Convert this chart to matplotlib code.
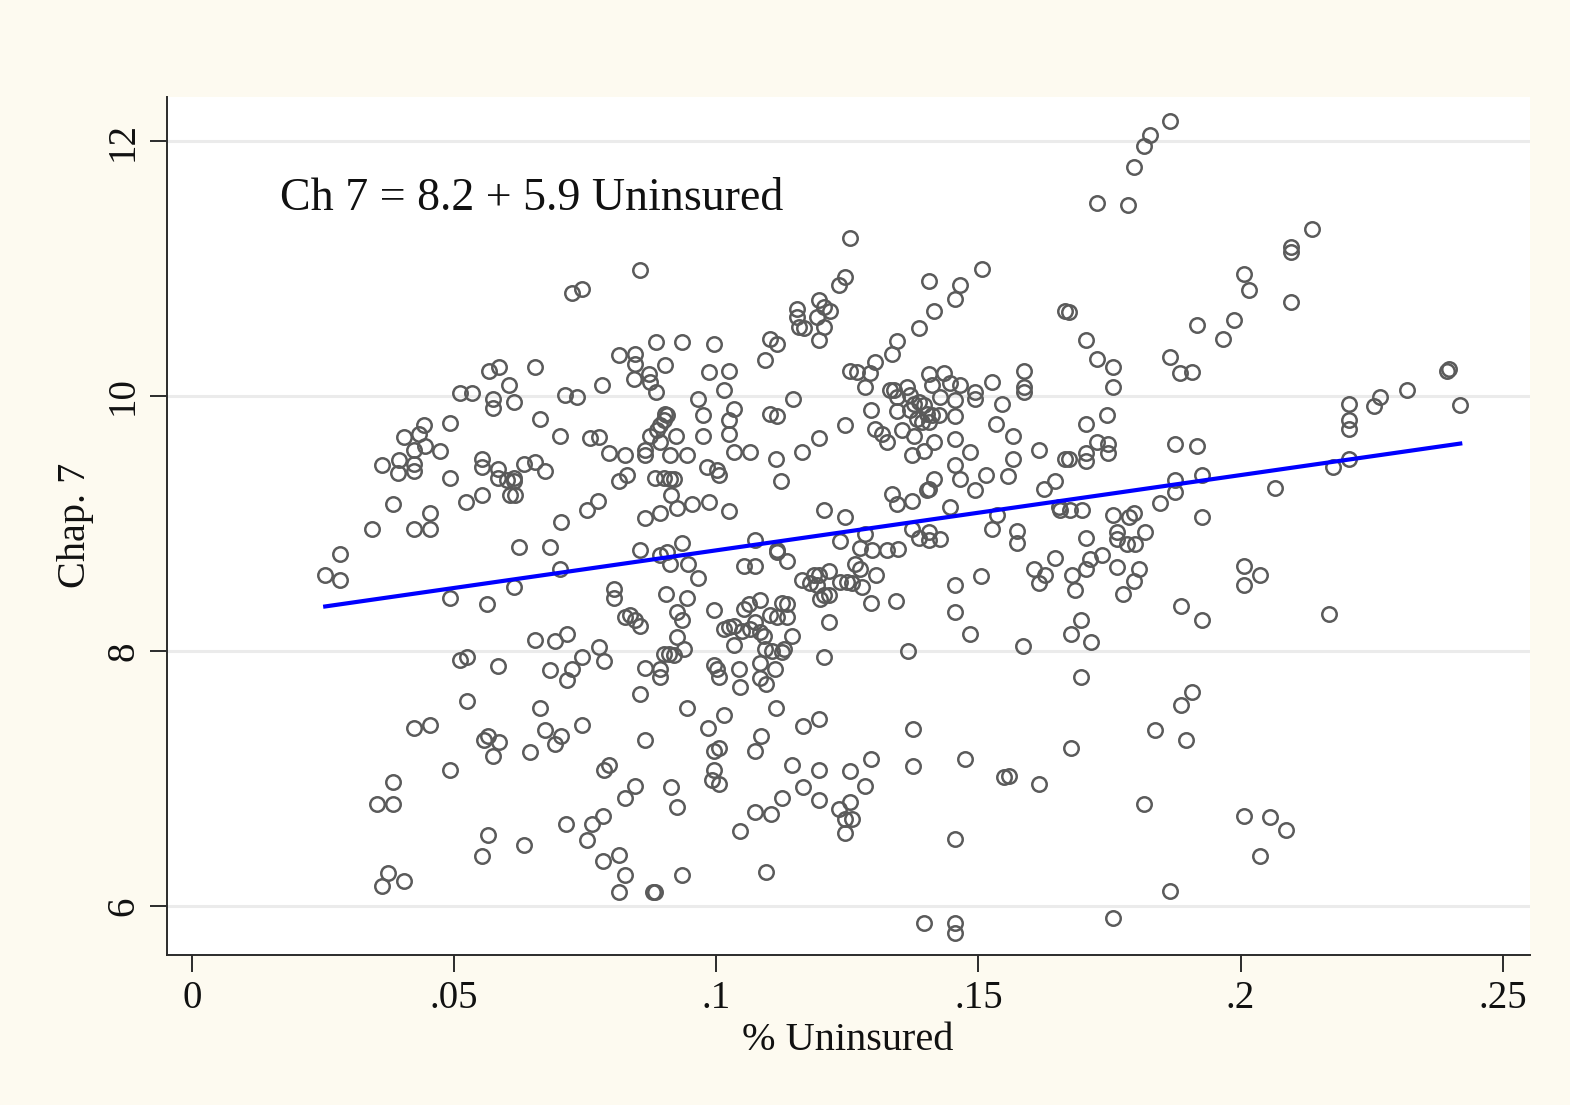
import matplotlib
matplotlib.use("Agg")
import matplotlib.pyplot as plt
import numpy as np

# ---- data: % uninsured (x) and Chap. 7 filings (y) ----
x_uninsured = [
    # left cluster
    0.0511,0.0534,0.0574,0.0574,0.0614,0.0605,0.0712,0.0734,0.0782,0.0492,
    0.0443,0.0433,0.0404,0.0424,0.0444,0.0473,0.0362,0.0395,0.0424,0.0424,
    0.0393,0.0492,0.0553,0.0553,0.0584,0.0584,0.0614,0.0614,0.0607,0.0616,
    0.0601,0.0633,0.0654,0.0673,0.0664,0.0702,0.0759,0.0776,0.0796,0.0826,
    0.0815,0.0830,0.0775,0.0754,0.0704,0.0683,0.0624,0.0702,0.0614,0.0553,
    0.0523,0.0454,0.0424,0.0454,0.0383,0.0343,0.0282,0.0254,0.0282,0.0492,
    0.0563,0.0805,0.0805,0.0826,0.0654,0.0692,0.0715,0.0776,0.0744,0.0786,
    0.0511,0.0525,0.0584,0.0683,0.0725,
    0.0725,0.0744,0.0567,0.0586,0.0654,0.0815,
    0.0715,0.0525,0.0664,0.0424,0.0454,0.0557,0.0565,0.0586,0.0574,0.0645,
    0.0673,0.0704,0.0692,0.0744,0.0492,0.0383,0.0353,0.0383,0.0786,0.0796,
    0.0826,0.0784,0.0763,0.0713,0.0754,0.0565,0.0633,0.0553,0.0784,0.0815,
    0.0826,0.0815,0.0374,0.0404,0.0362,
    # upper middle
    0.0855,0.1255,0.1246,0.1234,0.1406,0.1465,0.1456,0.1507,0.1415,0.1387,
    0.1345,0.1335,0.1303,0.1293,0.1255,0.1269,0.1665,0.1196,0.1154,0.1154,
    0.1158,0.1168,0.1206,0.1217,0.1192,0.1206,0.1196,0.1103,0.1116,0.1093,
    0.0885,0.0935,0.0996,0.0902,0.0986,0.1024,0.0845,0.0845,0.0843,0.0872,
    0.0874,0.1015,0.1406,0.1435,0.1446,0.1465,0.1412,0.1526,0.1587,0.1587,
    0.1284,0.1364,0.1339,0.1494,
    # upper right
    0.1866,0.1828,0.1816,0.1797,0.1726,0.1786,0.2137,0.2097,0.2097,0.2007,
    0.2016,0.2097,0.1673,0.1705,0.1726,0.1757,0.1757,0.1866,0.1885,0.1908,
    0.1917,0.1967,0.1988,0.2398,0.2394,0.2318,
    # middle right
    0.2207,0.2266,0.2255,0.2419,0.2207,0.2207,0.2207,0.2177,0.2066,0.1705,
    0.1746,0.1726,0.1747,0.1747,0.1705,0.1705,0.1673,0.1875,0.1917,0.1875,
    0.1875,0.1927,0.1847,0.1927,0.1698,0.1675,0.1757,0.1788,0.1797,0.1765,
    0.1765,0.1818,0.1784,0.1799,0.1705,0.1736,0.1713,0.1705,0.1765,0.1807,
    0.1797,0.1679,0.1684,0.1776,0.2007,0.2037,0.2007,0.2169,0.1887,0.1927,
    0.1696,0.1677,0.1715,
    # lower right
    0.1696,0.1908,0.1887,0.1837,0.1896,0.1677,0.1816,0.2007,0.2056,0.2087,
    0.2037,0.1866,0.1757,
    # dense centre
    0.0885,0.0965,0.1147,0.1332,0.1587,0.1345,0.1370,0.1427,0.1456,0.1494,
    0.1545,0.1377,0.1387,0.1396,0.1370,0.1345,0.1295,0.1402,0.1412,0.1425,
    0.1456,0.1383,0.1393,0.1406,0.1534,0.1566,0.1354,0.1377,0.1303,0.1316,
    0.1326,0.1246,0.1456,0.1415,0.1374,0.1396,0.1484,0.1616,0.1665,0.1566,
    0.1456,0.1465,0.1415,0.1406,0.1402,0.1515,0.1557,0.1494,0.1625,0.1646,
    0.1335,0.1345,0.1374,0.1446,0.1654,0.1656,0.1536,0.1526,0.1574,0.1574,
    0.1374,0.1387,0.1406,0.1406,0.1427,0.1284,0.1246,0.1206,0.1236,0.1274,
    0.1297,0.1326,0.1347,0.1265,0.1274,0.1305,0.1646,0.1606,0.1627,0.1616,
    0.1505,0.1456,0.1456,0.1343,0.1295,0.1484,0.1585,0.1366,0.1206,0.1164,
    0.1187,0.1196,0.1215,0.1179,0.1192,0.1206,0.1215,0.1198,0.1236,0.1250,
    0.1259,0.1278,0.1215,0.1145,0.1116,0.1116,0.1135,0.1074,0.1053,0.1074,
    0.0996,0.1053,0.1063,0.1084,0.1126,0.1135,0.1103,0.1116,0.1135,0.1015,
    0.1024,0.1034,0.1049,0.1064,0.1074,0.1084,0.1091,0.1034,0.1093,0.1106,
    0.1126,0.1129,0.1084,0.1112,0.0996,0.1002,0.1043,0.0925,0.0939,0.0900,
    0.0910,0.0919,0.0864,0.0893,0.0836,0.0845,0.0855,0.0925,0.0935,0.0904,
    0.0944,0.0965,0.0946,0.0912,0.0893,0.0906,0.0855,0.0935,0.0864,0.0893,
    0.0925,0.0954,0.0986,0.1024,0.0914,0.0883,0.0900,0.0912,0.0919,0.0982,
    0.1002,0.1005,0.1124,0.0864,0.0864,0.0912,0.0944,0.1034,0.1064,0.1114,
    0.1164,0.1196,0.0874,0.0887,0.0893,0.0900,0.0906,0.0902,0.0893,0.0923,
    0.0975,0.0975,0.1024,0.1024,0.1034,0.1103,0.1116,
    # lower centre
    0.0893,0.1005,0.1045,0.1084,0.1095,0.0855,0.0944,0.1015,0.0984,0.1114,
    0.1166,0.1196,0.0864,0.1085,0.1074,0.0996,0.1005,0.0996,0.0992,0.1005,
    0.1145,0.1196,0.1255,0.1295,0.1375,0.1375,0.1475,0.1549,0.1559,0.1616,
    0.0845,0.0914,0.0925,0.1166,0.1196,0.1126,0.1284,0.1255,0.1234,0.1246,
    0.1259,0.1246,0.1074,0.1105,0.1045,0.1456,0.0935,0.0883,0.0879,0.1095,
    0.1396,0.1456,0.1456,
]

chap7 = [
    # left cluster
    10.02,10.02,9.98,9.91,9.95,10.09,10.01,9.99,10.09,9.79,
    9.77,9.70,9.68,9.58,9.61,9.57,9.46,9.50,9.47,9.41,
    9.40,9.36,9.51,9.44,9.43,9.36,9.36,9.33,9.22,9.22,
    9.34,9.47,9.48,9.41,9.82,9.69,9.67,9.68,9.55,9.54,
    9.33,9.38,9.18,9.11,9.01,8.82,8.82,8.64,8.50,9.22,
    9.17,9.08,8.96,8.96,9.15,8.96,8.76,8.60,8.56,8.42,
    8.37,8.49,8.42,8.27,8.09,8.08,8.13,8.03,7.95,7.92,
    7.93,7.95,7.88,7.85,7.86,
    10.81,10.84,10.20,10.23,10.23,10.32,
    7.77,7.61,7.55,7.40,7.42,7.30,7.33,7.29,7.18,7.21,
    7.38,7.33,7.27,7.42,7.07,6.97,6.80,6.80,7.07,7.11,
    6.85,6.71,6.64,6.64,6.52,6.56,6.48,6.39,6.35,6.40,
    6.24,6.11,6.26,6.20,6.16,
    # upper middle
    10.99,11.24,10.93,10.87,10.90,10.87,10.76,11.00,10.67,10.53,
    10.43,10.33,10.27,10.18,10.20,10.19,10.67,10.75,10.68,10.62,
    10.54,10.53,10.70,10.67,10.62,10.54,10.44,10.45,10.41,10.28,
    10.42,10.42,10.41,10.24,10.19,10.20,10.33,10.25,10.13,10.17,
    10.11,10.05,10.17,10.18,10.10,10.09,10.09,10.11,10.20,10.07,
    10.07,10.07,10.05,10.03,
    # upper right
    12.16,12.05,11.96,11.80,11.51,11.50,11.31,11.17,11.13,10.96,
    10.83,10.74,10.66,10.44,10.29,10.23,10.07,10.31,10.18,10.19,
    10.56,10.45,10.60,10.21,10.20,10.05,
    # middle right
    9.94,9.99,9.92,9.93,9.81,9.74,9.51,9.44,9.28,9.78,
    9.85,9.64,9.62,9.55,9.55,9.49,9.51,9.62,9.61,9.34,
    9.25,9.38,9.16,9.05,9.11,9.11,9.07,9.05,9.08,8.93,
    8.88,8.93,8.84,8.84,8.89,8.75,8.72,8.64,8.66,8.64,
    8.55,8.60,8.48,8.45,8.67,8.60,8.52,8.29,8.35,8.24,
    8.24,8.13,8.07,
    # lower right
    7.80,7.68,7.58,7.38,7.30,7.24,6.80,6.71,6.70,6.60,
    6.39,6.12,5.91,
    # dense centre
    10.03,9.98,9.98,10.05,10.03,9.99,10.01,9.99,9.97,9.98,
    9.94,9.94,9.95,9.93,9.89,9.88,9.89,9.86,9.85,9.85,
    9.84,9.82,9.80,9.80,9.78,9.69,9.73,9.69,9.74,9.70,
    9.64,9.77,9.66,9.64,9.54,9.57,9.56,9.58,9.51,9.51,
    9.46,9.35,9.35,9.27,9.26,9.38,9.37,9.26,9.27,9.33,
    9.23,9.15,9.18,9.13,9.13,9.11,9.07,8.96,8.94,8.85,
    8.96,8.89,8.93,8.87,8.88,8.92,9.05,9.11,8.86,8.81,
    8.79,8.79,8.80,8.68,8.64,8.60,8.73,8.64,8.60,8.53,
    8.59,8.52,8.31,8.39,8.38,8.13,8.04,8.00,7.95,8.56,
    8.60,8.60,8.63,8.53,8.52,8.44,8.44,8.41,8.54,8.54,
    8.53,8.50,8.23,8.12,8.79,8.78,8.71,8.87,8.67,8.67,
    8.32,8.33,8.37,8.40,8.38,8.37,8.28,8.27,8.27,8.17,
    8.19,8.20,8.16,8.17,8.23,8.15,8.12,8.05,8.02,8.00,
    7.99,8.02,7.91,7.86,7.89,7.86,7.86,8.11,8.02,7.98,
    7.98,7.97,7.87,7.86,8.28,8.24,8.20,8.31,8.24,8.45,
    8.42,8.57,8.68,8.68,8.75,8.78,8.79,8.85,9.04,9.08,
    9.12,9.15,9.17,9.10,9.22,9.36,9.36,9.35,9.35,9.44,
    9.42,9.38,9.33,9.54,9.58,9.54,9.54,9.56,9.56,9.51,
    9.56,9.67,9.69,9.73,9.77,9.81,9.85,9.86,9.64,9.69,
    9.69,9.85,9.70,9.81,9.90,9.86,9.84,
    # lower centre
    7.80,7.80,7.72,7.79,7.74,7.66,7.55,7.50,7.40,7.55,
    7.41,7.47,7.30,7.33,7.22,7.22,7.24,7.07,6.99,6.96,
    7.11,7.07,7.06,7.15,7.39,7.10,7.15,7.01,7.02,6.96,
    6.94,6.93,6.78,6.93,6.83,6.85,6.94,6.82,6.76,6.68,
    6.68,6.57,6.74,6.72,6.59,6.53,6.24,6.11,6.11,6.27,
    5.87,5.87,5.79,
]

fit_intercept = 8.2
fit_slope = 5.9
annotation = "Ch 7 = 8.2 + 5.9 Uninsured"

x_ticks = [0, 0.05, 0.10, 0.15, 0.20, 0.25]
x_tick_labels = ["0", ".05", ".1", ".15", ".2", ".25"]
y_ticks = [6, 8, 10, 12]
y_tick_labels = ["6", "8", "10", "12"]
x_label = "% Uninsured"
y_label = "Chap. 7"

# ---- figure ----
plt.rcParams['font.family'] = ['Liberation Serif', 'DejaVu Serif']

fig = plt.figure(figsize=(15.7, 11.05), dpi=100)
fig.patch.set_facecolor('#FDFAF0')
ax = fig.add_axes([0.1064, 0.1357, 0.8681, 0.7765])
ax.set_facecolor('white')
ax.set_xlim(-0.00477, 0.2552)
ax.set_ylim(5.616, 12.345)

ax.yaxis.grid(True, color='#EBEBEB', linewidth=2.2)
ax.xaxis.grid(False)
ax.set_axisbelow(True)
for s in ['top', 'right']:
    ax.spines[s].set_visible(False)
for s in ['left', 'bottom']:
    ax.spines[s].set_color('#2b2b2b')
    ax.spines[s].set_linewidth(1.4)

x = np.array(x_uninsured)
y = np.array(chap7)
ax.plot(x, y, linestyle='none', marker='o', markerfacecolor='none',
        markeredgecolor='#5A5A5A', markersize=10.4, markeredgewidth=1.8, zorder=3)

xs = np.array([x.min(), x.max()])
ax.plot(xs, fit_intercept + fit_slope * xs, color='#0000FF', linewidth=3.0, zorder=4)

ax.set_xticks(x_ticks)
ax.set_xticklabels(x_tick_labels)
ax.set_yticks(y_ticks)
ax.set_yticklabels(y_tick_labels, rotation=90, va='center')
ax.tick_params(direction='out', length=12, width=1.4, color='#2b2b2b',
               labelsize=28, pad=6, labelcolor='#111111')

ax.set_xlabel(x_label, fontsize=29, color='#111111')
ax.set_ylabel(y_label, fontsize=29, color='#111111')
ax.xaxis.set_label_coords(0.4996, -0.0991)
ax.xaxis.label.set_va('center')
ax.yaxis.set_label_coords(-0.0675, 0.501)
ax.yaxis.label.set_va('center')

ax.text(0.0168, 11.46, annotation, fontsize=33, ha='left', va='baseline',
        color='#111111', zorder=5)

fig.savefig('out.png', dpi=100, facecolor=fig.get_facecolor())
